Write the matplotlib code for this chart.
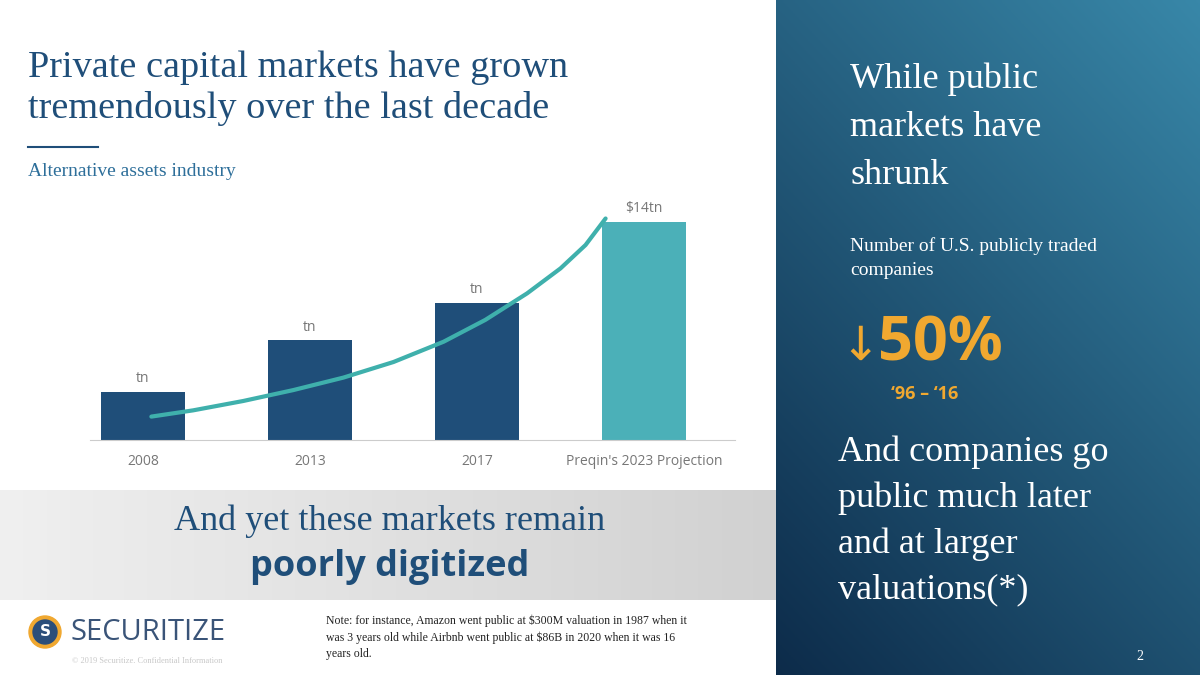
import numpy as np
import matplotlib
matplotlib.use("Agg")
import matplotlib.pyplot as plt
from matplotlib.patches import Rectangle

categories = ["2008", "2013", "2017", "Preqin's 2023 Projection"]
values = [3.1, 6.4, 8.8, 14.0]
bar_labels = ["tn", "tn", "tn", "$14tn"]
bar_colors = ["#1f4e79", "#1f4e79", "#1f4e79", "#4bb0b8"]
trend_x = [0.05, 0.3, 0.6, 0.9, 1.2, 1.5, 1.8, 2.05, 2.3, 2.5, 2.65, 2.77]
trend_y = [1.5, 1.9, 2.5, 3.2, 4.0, 5.0, 6.3, 7.7, 9.4, 11.0, 12.5, 14.2]

W, H = 1200, 675
fig = plt.figure(figsize=(12, 6.75), dpi=100)
bg = fig.add_axes([0, 0, 1, 1]); bg.set_xlim(0, W); bg.set_ylim(H, 0); bg.axis("off")
bg.add_patch(Rectangle((0, 0), 776, H, color="white"))
band = np.linspace(0.94, 0.82, 100)[None, :].repeat(2, 0)
bg.imshow(np.dstack([band, band, band]), extent=(0, 776, 600, 490), aspect="auto", zorder=1)
yy, xx = np.mgrid[0:1:200j, 0:1:200j]
t = np.clip(0.6 * (1 - yy) + 0.4 * xx, 0, 1)
c0 = np.array([0.05, 0.17, 0.29]); c1 = np.array([0.22, 0.53, 0.66])
img = c0 + (c1 - c0) * t[..., None]
bg.imshow(img, extent=(776, W, H, 0), aspect="auto", zorder=1)
bg.set_xlim(0, W); bg.set_ylim(H, 0)

serif = "Liberation Serif"
navy = "#1f4e79"
bg.text(28, 88, "Private capital markets have grown\ntremendously over the last decade", fontsize=27.5,
        family=serif, color=navy, va="center", linespacing=1.22, zorder=3)
bg.plot([28, 98], [147, 147], color=navy, lw=1.5, zorder=3)
bg.text(28, 171, "Alternative assets industry", fontsize=14, family=serif, color="#2e6f9a", va="center", zorder=3)
bg.text(390, 521, "And yet these markets remain", fontsize=26, family=serif, color=navy,
        ha="center", va="center", zorder=3)
bg.text(390, 567, "poorly digitized", fontsize=26, family="Open Sans", weight="bold", color=navy,
        ha="center", va="center", zorder=3)
bg.add_patch(plt.Circle((45, 632), 16, color="#f0a830", zorder=3))
bg.add_patch(plt.Circle((45, 632), 12, color="#2b4e7a", zorder=4))
bg.text(45, 632, "S", color="white", fontsize=11, weight="bold", ha="center", va="center", zorder=5)
bg.text(70, 633, "SECURITIZE", fontsize=21, family="Open Sans", color="#3a5478", va="center", zorder=3)
bg.text(72, 661, "© 2019 Securitize. Confidential Information", fontsize=6, family=serif, color="#c8c8c8", va="center", zorder=3)
bg.text(326, 637, "Note: for instance, Amazon went public at $300M valuation in 1987 when it\n"
        "was 3 years old while Airbnb went public at $86B in 2020 when it was 16\nyears old.",
        fontsize=8.5, family=serif, color="#222222", va="center", linespacing=1.45, zorder=3)
bg.text(850, 127, "While public\nmarkets have\nshrunk", fontsize=26, family=serif, color="white",
        va="center", linespacing=1.6, zorder=3)
bg.text(850, 258, "Number of U.S. publicly traded\ncompanies", fontsize=14, family=serif, color="white",
        va="center", linespacing=1.6, zorder=3)
bg.text(840, 347, "↓", fontsize=34, color="#f0a830", va="center", family="DejaVu Sans", zorder=3)
bg.text(878, 345, "50%", fontsize=44, weight="bold", family="Open Sans", color="#f0a830", va="center", zorder=3)
bg.text(925, 394, "‘96 – ‘16", fontsize=13, weight="bold", family="Open Sans", color="#f0a830", ha="center", va="center", zorder=3)
bg.text(838, 521, "And companies go\npublic much later\nand at larger\nvaluations(*)", fontsize=26, family=serif,
        color="white", va="center", linespacing=1.5, zorder=3)
bg.text(1140, 656, "2", fontsize=10, family=serif, color="white", ha="center", va="center", zorder=3)

px0, px1, py_base, py_top = 90, 735, 440, 200
ax = fig.add_axes([px0 / W, 1 - py_base / H, (px1 - px0) / W, (py_base - py_top) / H])
ax.set_xlim((px0 - 143) / 167, (px1 - 143) / 167)
ax.set_ylim(0, (py_base - py_top) / 15.6)
ax.patch.set_alpha(0)
x = np.arange(len(categories))
ax.bar(x, values, width=0.5, color=bar_colors, zorder=2)
for xi, v, lab in zip(x, values, bar_labels):
    ax.text(xi, v + 0.35, lab, ha="center", va="bottom", fontsize=10, color="#777777", family="Open Sans")
ax.plot(trend_x, trend_y, color="#3fb0ac", lw=3, solid_capstyle="round", solid_joinstyle="round", zorder=3)
ax.set_xticks(x, categories)
ax.tick_params(axis="x", length=0, pad=10, labelsize=10, labelcolor="#777777")
for l in ax.get_xticklabels():
    l.set_family("Open Sans")
ax.set_yticks([])
for s in ["top", "left", "right"]:
    ax.spines[s].set_visible(False)
ax.spines["bottom"].set_color("#cccccc")

fig.savefig("out.png", dpi=100)
